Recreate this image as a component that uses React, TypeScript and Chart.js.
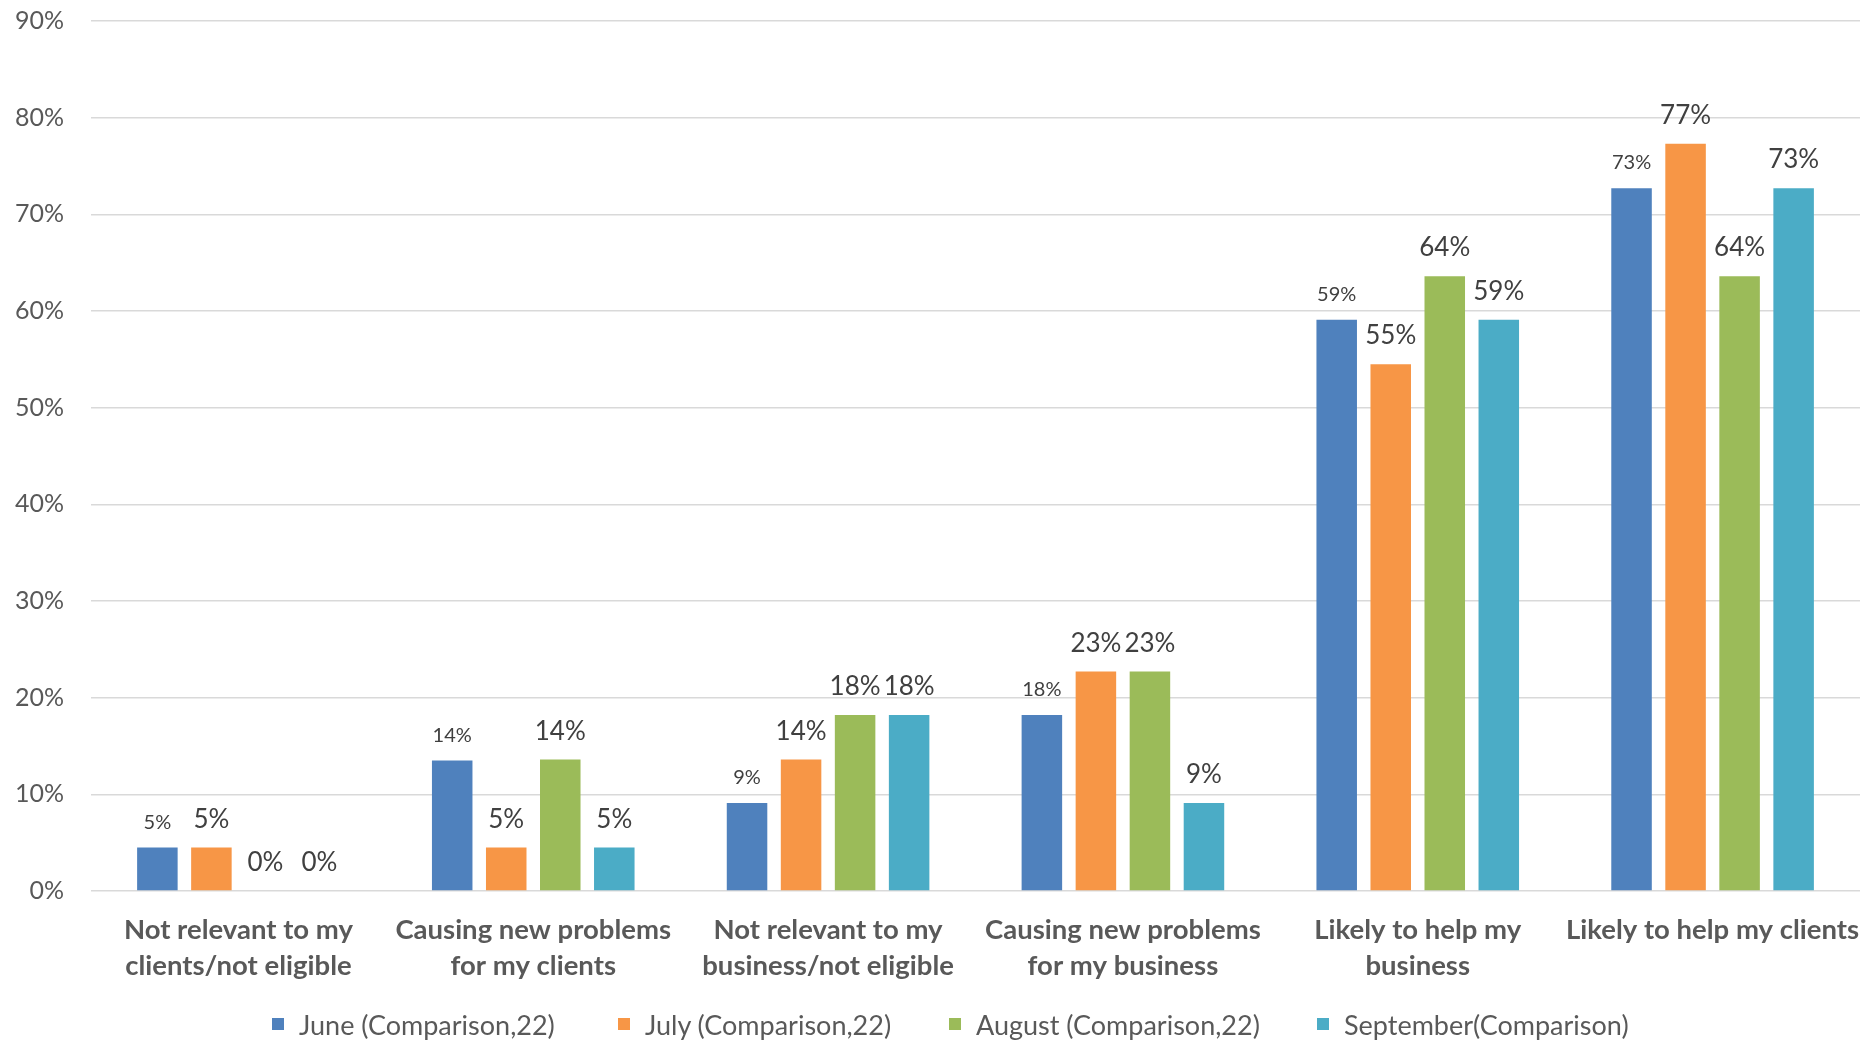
import React, { useEffect, useRef } from 'react';
import { Chart, registerables } from 'chart.js';

Chart.register(...registerables);

const categories: string[][] = [
  ['Not relevant to my', 'clients/not eligible'],
  ['Causing new problems', 'for my clients'],
  ['Not relevant to my', 'business/not eligible'],
  ['Causing new problems', 'for my business'],
  ['Likely to help my', 'business'],
  ['Likely to help my clients'],
];

const seriesNames = [
  'June (Comparison,22)',
  'July (Comparison,22)',
  'August (Comparison,22)',
  'September(Comparison)',
];

const juneValues = [4.5, 13.5, 9.1, 18.2, 59.1, 72.7];
const julyValues = [4.5, 4.5, 13.6, 22.7, 54.5, 77.3];
const augustValues = [0, 13.6, 18.2, 22.7, 63.6, 63.6];
const septemberValues = [0, 4.5, 18.2, 9.1, 59.1, 72.7];

const seriesColors = ['#4F81BD', '#F79646', '#9BBB59', '#4BACC6'];

const yMax = 90;
const yStep = 10;

const FONT = 'Lato';
const legendLeft = [272, 618, 949, 1317];

const valueLabelPlugin = {
  id: 'valueLabels',
  afterDatasetsDraw(chart: any) {
    const ctx = chart.ctx;
    chart.data.datasets.forEach((ds: any, di: number) => {
      const meta = chart.getDatasetMeta(di);
      meta.data.forEach((el: any, i: number) => {
        const v = ds.data[i] as number;
        ctx.save();
        const size = di === 0 ? 20 : 26;
        ctx.font = `${size}px ${FONT}`;
        ctx.fillStyle = '#404040';
        ctx.textAlign = 'center';
        ctx.textBaseline = 'alphabetic';
        ctx.fillText(Math.round(v) + '%', el.x, el.y - (di === 0 ? 19 : 20));
        ctx.restore();
      });
    });
  },
};

export default function App() {
  const ref = useRef<HTMLCanvasElement>(null);

  useEffect(() => {
    const allSeries = [juneValues, julyValues, augustValues, septemberValues];
    const chart = new Chart(ref.current as HTMLCanvasElement, {
      type: 'bar',
      data: {
        labels: categories,
        datasets: allSeries.map((values, i) => ({
          label: seriesNames[i],
          data: values,
          backgroundColor: seriesColors[i],
          borderWidth: 0,
          categoryPercentage: 0.733,
          barPercentage: 0.75,
        })),
      },
      options: {
        animation: false,
        responsive: true,
        maintainAspectRatio: false,
        layout: { padding: { top: 21, right: 12, left: 0, bottom: 0 } },
        plugins: {
          tooltip: { enabled: false },
          legend: { display: false },
        },
        scales: {
          x: {
            grid: { display: false },
            border: { display: false },
            ticks: {
              color: '#595959',
              font: { family: FONT, size: 27.5, weight: 'bold', lineHeight: 1.31 },
              padding: 13,
              maxRotation: 0,
              autoSkip: false,
            },
            afterFit: (s: any) => {
              s.height = 100;
              s.paddingLeft = 0;
              s.paddingRight = 0;
            },
          },
          y: {
            min: 0,
            max: yMax,
            grid: { color: '#D9D9D9', lineWidth: 1.5, drawTicks: false },
            border: { display: false },
            ticks: {
              stepSize: yStep,
              color: '#595959',
              font: { family: FONT, size: 25 },
              padding: 27,
              callback: (v: any) => v + '%',
            },
            afterFit: (s: any) => {
              s.width = 91;
              s.paddingTop = 0;
              s.paddingBottom = 0;
            },
          },
        },
      },
      plugins: [valueLabelPlugin],
    } as any);
    return () => chart.destroy();
  }, []);

  return (
    <div style={{ position: 'fixed', left: 0, top: 0, width: 1872, height: 1041, background: '#fff' }}>
      <div style={{ position: 'absolute', left: 0, top: 0, width: 1872, height: 991 }}>
        <canvas ref={ref} />
      </div>
      {seriesNames.map((name, i) => (
        <div
          key={name}
          style={{
            position: 'absolute',
            left: legendLeft[i],
            top: 1006,
            height: 36,
            display: 'flex',
            alignItems: 'center',
            whiteSpace: 'nowrap',
            fontFamily: FONT,
            fontSize: 27,
            color: '#595959',
          }}
        >
          <span style={{ display: 'inline-block', width: 12, height: 12, background: seriesColors[i], marginRight: 15 }} />
          <span>{name}</span>
        </div>
      ))}
    </div>
  );
}
